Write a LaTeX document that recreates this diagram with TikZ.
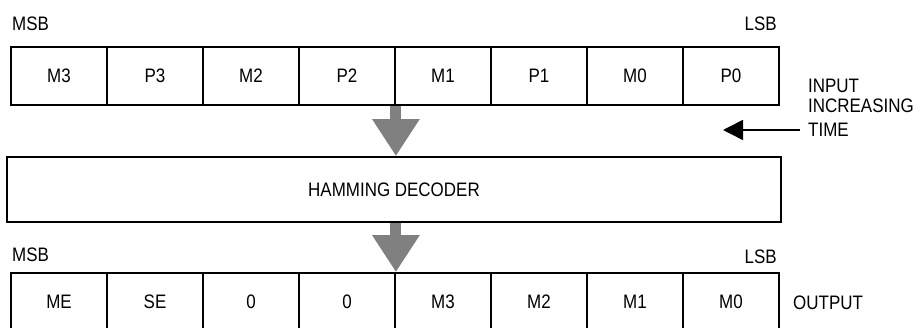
\documentclass[tikz,border=0pt]{standalone}
\usepackage{fontspec}
\setmainfont{Liberation Sans}[FakeStretch=0.87]
\usetikzlibrary{arrows.meta,positioning}
\tikzset{
  cell/.style={draw, line width=1.8pt, minimum width=96pt, minimum height=58pt,
    inner sep=0pt, font=\fontsize{19.5}{22}\selectfont},
  lbl/.style={inner sep=0pt, font=\fontsize{19.5}{22}\selectfont},
  bigarrow/.style={draw=black!50, line width=11pt, -{Triangle[length=37pt,width=45pt]}},
}
\begin{document}
\begin{tikzpicture}[x=1pt, y=-1pt]
  \useasboundingbox (0,0) rectangle (920,328);
  % input word
  \foreach \t [count=\i from 0] in {M3,P3,M2,P2,M1,P1,M0,P0}
    \node[cell] (in\i) at (59+96*\i,76) {\t};
  \node[lbl, anchor=west] (msbin) at (12,24) {MSB};
  \node[lbl, anchor=east] (lsbin) at (777,24) {LSB};
  \node[lbl, anchor=west] (lblinput) at (808,86) {INPUT};
  \node[lbl, anchor=west] (lblincr) at (808,106) {INCREASING};
  \node[lbl, anchor=west] (lbltime) at (808,130) {TIME};
  \coordinate (tstart) at (800,130);
  \coordinate (ttip) at (723,130);
  \draw[line width=1.6pt, -{Triangle[length=20pt,width=20pt]}] (tstart) -- (ttip);
  % decoder
  \node[cell, minimum width=774pt, minimum height=65pt] (dec) at (394,189.5) {HAMMING DECODER};
  \draw[bigarrow] (in3.south east) -- (in3.south east |- dec.north);
  % output word
  \foreach \t [count=\i from 0] in {ME,SE,0,0,M3,M2,M1,M0}
    \node[cell] (out\i) at (59+96*\i,302) {\t};
  \draw[bigarrow] (dec.south -| out3.north east) -- (out3.north east);
  \node[lbl, anchor=west] (msbout) at (12,255) {MSB};
  \node[lbl, anchor=east] (lsbout) at (777,257) {LSB};
  \node[lbl, anchor=west] (lbloutput) at (793,303) {OUTPUT};
\end{tikzpicture}
\end{document}
